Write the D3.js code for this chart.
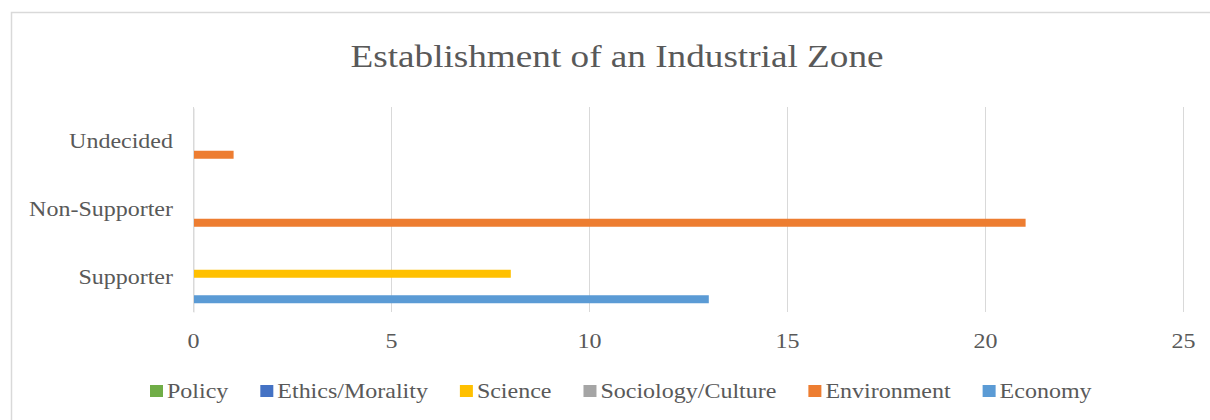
<!DOCTYPE html>
<html>
<head>
<meta charset="utf-8">
<script src="https://cdn.jsdelivr.net/npm/d3@7"></script>
<style>
  html, body { margin: 0; padding: 0; background: #fff; }
  svg { display: block; }
  text { font-family: "Liberation Serif", "Times New Roman", serif; fill: #595959; }
</style>
</head>
<body>
<svg id="chart" width="1210" height="420"></svg>
<script>
// ---- data ----
const title = "Establishment of an Industrial Zone";
const categories = ["Undecided", "Non-Supporter", "Supporter"]; // top to bottom
const seriesNames = ["Policy", "Ethics/Morality", "Science", "Sociology/Culture", "Environment", "Economy"];
const seriesColors = ["#70AD47", "#4472C4", "#FFC000", "#A5A5A5", "#ED7D31", "#5B9BD5"];
// values per series, in the order of categories (Undecided, Non-Supporter, Supporter)
const policyValues      = [0, 0, 0];
const ethicsValues      = [0, 0, 0];
const scienceValues     = [0, 0, 8];
const sociologyValues   = [0, 0, 0];
const environmentValues = [1, 21, 0];
const economyValues     = [0, 0, 13];
const seriesValues = [policyValues, ethicsValues, scienceValues, sociologyValues, environmentValues, economyValues];
const xTicks = [0, 5, 10, 15, 20, 25];

// ---- layout ----
const SX = 1.2; // horizontal text stretch seen in the reference
const svg = d3.select("#chart");

// chart frame
svg.append("rect")
  .attr("x", 11.5).attr("y", 12.5)
  .attr("width", 1220).attr("height", 430)
  .attr("fill", "#fff").attr("stroke", "#d9d9d9").attr("stroke-width", 1.5);

const x = d3.scaleLinear().domain([0, 25]).range([193, 1183]);
const y = d3.scaleBand().domain(categories).range([108, 312]).paddingInner(0.25).paddingOuter(0.125);
const ySub = d3.scaleBand().domain(seriesNames).range([0, y.bandwidth()]).padding(0);

// gridlines
svg.append("g").selectAll("line").data(xTicks).join("line")
  .attr("x1", d => x(d) + 0.5).attr("x2", d => x(d) + 0.5)
  .attr("y1", 107).attr("y2", 312)
  .attr("stroke", "#d9d9d9").attr("stroke-width", 1);

// x axis tick labels (no axis line)
const xAxis = svg.append("g").attr("transform", "translate(0,312)")
  .call(d3.axisBottom(x).tickValues(xTicks).tickSize(0).tickPadding(0).tickFormat(d3.format("d")));
xAxis.select(".domain").remove();
xAxis.selectAll("text")
  .attr("y", 36).attr("dy", 0)
  .attr("font-size", 20)
  .attr("fill", "#595959")
  .style("font-family", "'Liberation Serif', serif")
  .attr("transform", `scale(${SX},1)`);

// y axis labels
const yAxis = svg.append("g").attr("transform", "translate(193,0)")
  .call(d3.axisLeft(y).tickSize(0).tickPadding(0));
yAxis.select(".domain").attr("stroke", "#d9d9d9").attr("stroke-width", 1).attr("transform", "translate(0.5,0)");
yAxis.selectAll("text")
  .attr("x", 0).attr("dy", "0.32em")
  .attr("font-size", 20)
  .attr("fill", "#595959")
  .style("font-family", "'Liberation Serif', serif")
  .attr("transform", `translate(-20,0) scale(${SX},1)`);

// bars
const barH = 8;
const groups = svg.append("g").selectAll("g").data(seriesNames).join("g")
  .attr("fill", (d, i) => seriesColors[i]);
groups.selectAll("rect")
  .data((s, i) => categories.map((c, j) => ({ cat: c, series: s, value: seriesValues[i][j] })))
  .join("rect")
  .attr("x", x(0) + 1)
  .attr("y", d => y(d.cat) + ySub(d.series) + (ySub.bandwidth() - barH) / 2)
  .attr("width", d => Math.max(0, x(d.value) - x(0)))
  .attr("height", barH);

// title
svg.append("text")
  .attr("transform", `translate(617,67) scale(${SX},1)`)
  .attr("text-anchor", "middle")
  .attr("font-size", 31)
  .text(title);

// legend
const legend = svg.append("g");
let lx = 150;
seriesNames.forEach((name, i) => {
  legend.append("rect")
    .attr("x", lx).attr("y", 385)
    .attr("width", 13).attr("height", 12)
    .attr("fill", seriesColors[i]);
  const t = legend.append("text")
    .attr("transform", `translate(${lx + 17},398) scale(${SX},1)`)
    .attr("font-size", 20)
    .text(name);
  const w = t.node().getComputedTextLength() * SX;
  lx += 17 + w + 32;
});
</script>
</body>
</html>
